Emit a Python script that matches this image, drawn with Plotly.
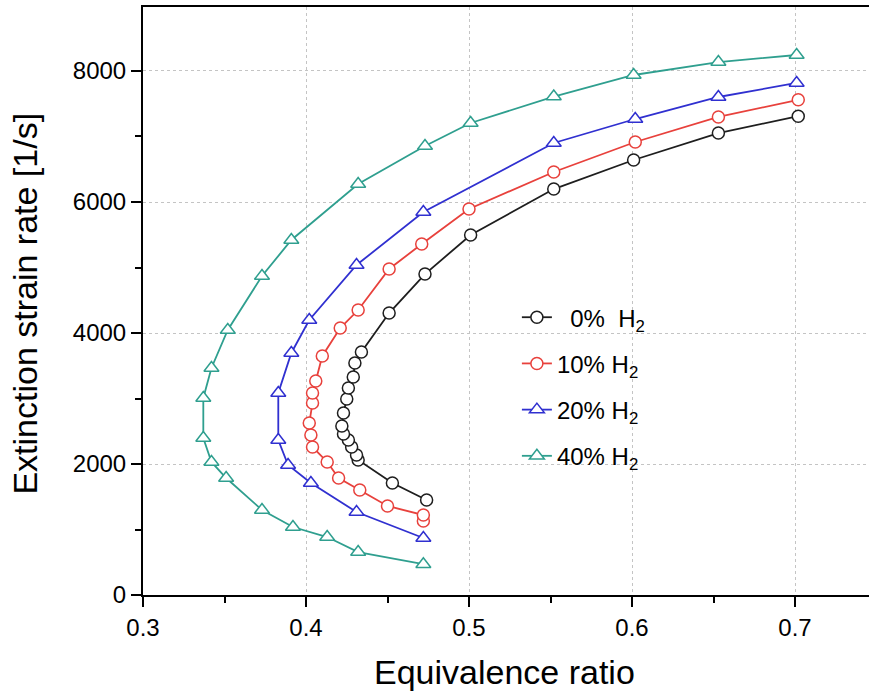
import plotly.graph_objects as go

# ---- data ----
phi_0 = [0.474, 0.453, 0.432, 0.431, 0.428, 0.426, 0.423, 0.422, 0.423, 0.425, 0.426, 0.429, 0.430, 0.434,
         0.451, 0.473, 0.501, 0.552, 0.601, 0.653, 0.702]
k_0 = [1450, 1710, 2061, 2137, 2260, 2366, 2458, 2580, 2779, 2992, 3160, 3328, 3542, 3710,
       4305, 4900, 5496, 6198, 6641, 7053, 7310]

phi_10 = [0.472, 0.472, 0.450, 0.433, 0.420, 0.413, 0.404, 0.403, 0.402, 0.404, 0.404, 0.406, 0.410, 0.421,
          0.432, 0.451, 0.471, 0.500, 0.552, 0.602, 0.653, 0.702]
k_10 = [1130, 1221, 1359, 1603, 1786, 2031, 2260, 2443, 2626, 2931, 3084, 3267, 3649, 4076,
        4351, 4977, 5359, 5893, 6458, 6916, 7298, 7560]

phi_20 = [0.472, 0.431, 0.403, 0.389, 0.383, 0.383, 0.391, 0.402, 0.431, 0.472, 0.552, 0.602, 0.653, 0.701]
k_20 = [870, 1267, 1710, 1985, 2366, 3084, 3695, 4198, 5038, 5847, 6901, 7267, 7603, 7817]

phi_40 = [0.472, 0.432, 0.413, 0.392, 0.373, 0.351, 0.342, 0.337, 0.337, 0.342, 0.352, 0.373, 0.391,
          0.432, 0.473, 0.501, 0.552, 0.601, 0.653, 0.701]
k_40 = [470, 656, 885, 1038, 1298, 1786, 2031, 2397, 3008, 3466, 4046, 4870, 5420,
        6275, 6855, 7206, 7610, 7939, 8137, 8244]

labels = ["\u00a0\u00a00%\u00a0\u00a0H<sub>2</sub>", "10% H<sub>2</sub>", "20% H<sub>2</sub>", "40% H<sub>2</sub>"]
colors = ["#1e1e1e", "#e8413c", "#3030d0", "#2f9f8f"]
symbols = ["circle", "circle", "triangle-up", "triangle-up"]

series_x = [phi_0, phi_10, phi_20, phi_40]
series_y = [k_0, k_10, k_20, k_40]

FONT = "Liberation Sans, Arial, sans-serif"

fig = go.Figure()
for i in range(4):
    fig.add_trace(go.Scatter(
        x=series_x[i], y=series_y[i], mode="lines+markers", name=labels[i],
        legendgroup=str(i),
        line=dict(color=colors[i], width=1.8),
        marker=dict(symbol=symbols[i], size=12 if i < 2 else 13,
                    color="white", line=dict(color=colors[i], width=1.5)),
    ))

axis_common = dict(
    showline=True, linecolor="black", linewidth=2,
    ticks="outside", ticklen=10, tickwidth=2, tickcolor="black",
    showgrid=True, gridcolor="#c4c4c4", griddash="dot", gridwidth=1,
    zeroline=False,
    tickfont=dict(family=FONT, size=24, color="black"),
)

fig.update_xaxes(range=[0.3, 0.7454], dtick=0.1, tick0=0.3, mirror=True,
                 minor=dict(ticks="outside", ticklen=6, tickwidth=2, tickcolor="black", dtick=0.05, showgrid=False),
                 **axis_common)
fig.update_yaxes(range=[0, 8977], dtick=2000, tick0=0,
                 minor=dict(ticks="outside", ticklen=6, tickwidth=2, tickcolor="black", dtick=1000, showgrid=False),
                 **axis_common)

fig.update_layout(
    width=869, height=695,
    margin=dict(l=143, r=0, t=7, b=100),
    plot_bgcolor="white", paper_bgcolor="white",
    font=dict(family=FONT, color="black"),
    showlegend=True,
    legend=dict(x=0.515, y=0.51, xanchor="left", yanchor="top",
                bgcolor="rgba(0,0,0,0)", font=dict(family=FONT, size=24, color="black"),
                tracegroupgap=12),
    annotations=[
        dict(text="Equivalence ratio", xref="paper", yref="paper", x=0.4986, y=-0.131,
             xanchor="center", yanchor="middle", showarrow=False,
             font=dict(family=FONT, size=34, color="black")),
        dict(text="Extinction strain rate [1/s]", xref="paper", yref="paper", x=-0.163, y=0.495,
             xanchor="center", yanchor="middle", textangle=-90, showarrow=False,
             font=dict(family=FONT, size=34, color="black")),
    ],
)

fig.write_html("out.html")
